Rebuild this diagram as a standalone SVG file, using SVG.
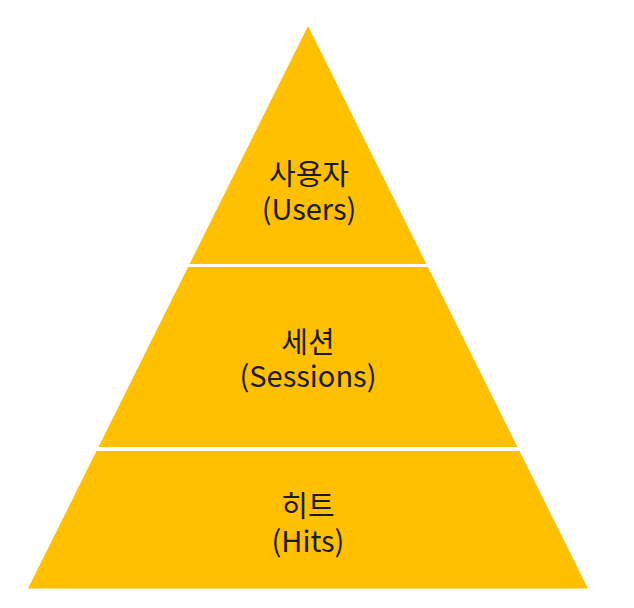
<svg xmlns="http://www.w3.org/2000/svg" width="634" height="608" viewBox="0 0 634 608">
<style>
.band{fill:#FFC000;}
.t{font-family:"Noto Sans CJK KR","Noto Sans",sans-serif;font-size:29px;fill:#1a1a1a;text-anchor:middle;}
</style>
<rect width="634" height="608" fill="#ffffff"/>
<g id="users">
<polygon class="band" points="308,26 426.4,264 189.6,264"/>
<text class="t"><tspan x="309" y="185">사용자</tspan><tspan x="309" y="220">(Users)</tspan></text>
</g>
<g id="sessions">
<polygon class="band" points="188.1,267 427.9,267 517.5,447 98.5,447"/>
<text class="t"><tspan x="308" y="353">세션</tspan><tspan x="308" y="387">(Sessions)</tspan></text>
</g>
<g id="hits">
<polygon class="band" points="96.5,451 519.5,451 588,588.6 28,588.6"/>
<text class="t"><tspan x="308" y="517">히트</tspan><tspan x="308" y="552">(Hits)</tspan></text>
</g>
<g id="connectors"></g>
</svg>
